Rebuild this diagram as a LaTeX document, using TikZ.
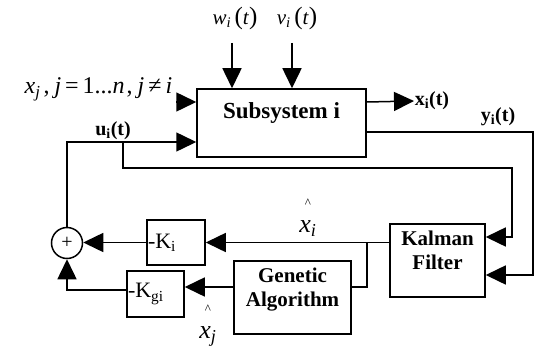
\documentclass[tikz,border=0pt]{standalone}
\usepackage{fontspec}
\setmainfont{Liberation Serif}
\usetikzlibrary{arrows.meta,positioning}
\newcommand{\bigtxt}{\fontsize{21}{24}\selectfont}
\newcommand{\midtxt}{\fontsize{20}{22}\selectfont}
\newcommand{\pl}[1]{{\fontsize{25}{25}\selectfont#1}}
\newcommand{\noisesig}[2]{\textit{#1}\textsubscript{\textit{#2}}\,\pl{(}\textit{t}\pl{)}}
\newcommand{\esthat}[2]{{\fontsize{13}{13}\selectfont\textasciicircum}\\[13pt]{\fontsize{26}{26}\selectfont\textit{#1}\textsubscript{\textit{#2}}}}

\begin{document}
\begin{tikzpicture}[x=1pt,y=-1pt,line width=1.5pt]
  \tikzset{block/.style={draw, inner sep=2pt, font=\bigtxt\bfseries, align=center}}
  \tikzset{gain/.style={draw, inner xsep=1pt, inner ysep=0pt, font=\fontsize{22}{24}\selectfont, align=left}}
  \tikzset{sig/.style={font=\midtxt\bfseries, inner sep=0pt}}
  \tikzset{arr/.style={-{Triangle[length=20pt,width=19pt]}}}
  \useasboundingbox (0,0) rectangle (534,350);
  \node[block, font=\fontsize{23}{26}\selectfont\bfseries, minimum width=169pt, minimum height=68pt, text depth=24pt] (sub) at (281.5,123) {Subsystem i};
  \node[block, minimum width=95pt, minimum height=73pt, text depth=20pt] (kal) at (437.5,260.5) {Kalman\\Filter};
  \node[block, minimum width=117pt, minimum height=73pt, text depth=20pt] (ga) at (292.5,297.5) {Genetic\\Algorithm};
  \node[gain, text width=56pt, minimum height=45pt] (ki) at (176,242.5) {-K\textsubscript{i}};
  \node[gain, text width=55pt, minimum height=46pt] (kgi) at (155.5,294) {-K\textsubscript{gi}};
  \node[draw, circle, minimum size=31pt, inner sep=0pt, font=\fontsize{20}{20}\selectfont] (sum) at (67,243) {+};
  \node[font=\bigtxt, inner sep=0pt] (wlab) at (235,18) {\noisesig{w}{i}};
  \node[font=\bigtxt, inner sep=0pt] (vlab) at (297,18) {\noisesig{v}{i}};
  \node[font=\fontsize{24}{26}\selectfont, inner sep=0pt, anchor=east] (xjlab) at (173,89) {\textit{x}\textsubscript{\textit{j}}\hspace{3pt},\hspace{5pt}\textit{j}\hspace{4pt}=\hspace{4pt}1...\textit{n}\hspace{2pt},\hspace{5pt}\textit{j}\hspace{4pt}≠\hspace{4pt}\textit{i}};
  \node[sig, anchor=west] (xilab) at (414,101) {x\textsubscript{i}(t)};
  \node[sig] (yilab) at (498,117) {y\textsubscript{i}(t)};
  \node[sig] (uilab) at (113,131) {u\textsubscript{i}(t)};
  \node[align=center, inner sep=0pt] (xihat) at (308,218) {\esthat{x}{i}};
  \node[align=center, inner sep=0pt] (xjhat) at (208,326) {\esthat{x}{j}};
  \coordinate (win) at (232,43);
  \coordinate (vin) at (292,43);
  \coordinate (xjin) at (176,102);
  \coordinate (ujoin) at (123,142);
  \coordinate (ufb) at (512,168);
  \coordinate (xib) at (367,242.5);
  \draw[arr] (win) -- (win |- sub.north);
  \draw[arr] (vin) -- (vin |- sub.north);
  \draw[arr] (xjin) -- (xjin -| sub.west);
  \draw[arr] ([yshift=21pt]sub.east) -- (xilab.west);
  \draw[arr] ([yshift=-9pt]sub.east) -| ([xshift=47pt,yshift=-14.5pt]kal.east) -- ([yshift=-14.5pt]kal.east);
  \draw[arr] (sum.north) |- (ujoin) -- (ujoin -| sub.west);
  \draw[arr] (ujoin) |- (ufb) |- ([yshift=23.5pt]kal.east);
  \draw[arr] (kal.west |- ki) -- (ki.east);
  \draw (xib) |- ([yshift=10.5pt]ga.east);
  \draw[arr] ([yshift=10.5pt]ga.west) -- ([yshift=10.5pt]ga.west -| kgi.east);
  \draw[arr] (ki.west) -- (ki.west -| sum.east);
  \draw[arr] ([yshift=4pt]kgi.west) -| (sum.south);
\end{tikzpicture}
\end{document}
